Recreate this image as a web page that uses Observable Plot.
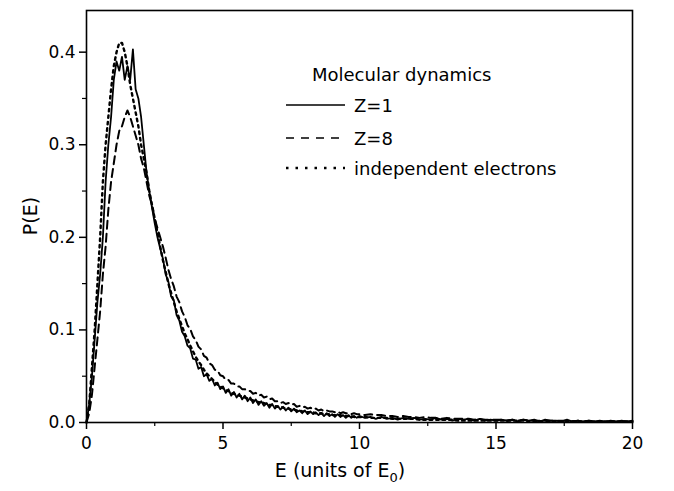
<!DOCTYPE html>
<html><head><meta charset="utf-8">
<script src="https://cdn.jsdelivr.net/npm/d3@7"></script>
<script src="https://cdn.jsdelivr.net/npm/@observablehq/plot@0.6"></script>
<style>
body{margin:0;background:#fff;}
#chart{position:relative;width:674px;height:491px;}
</style></head><body><div id="chart"></div>
<script>
const energy = [0,0.1,0.2,0.3,0.4,0.5,0.6,0.7,0.8,0.9,1.0,1.1,1.2,1.3,1.4,1.5,1.6,1.7,1.8,1.9,2.0,2.1,2.2,2.3,2.4,2.5,2.6,2.7,2.8,2.9,3.0,3.1,3.2,3.3,3.4,3.5,3.6,3.7,3.8,3.9,4.0,4.1,4.2,4.3,4.4,4.5,4.6,4.7,4.8,4.9,5.0,5.1,5.2,5.3,5.4,5.5,5.6,5.7,5.8,5.9,6.0,
6.1,6.2,6.3,6.4,6.5,6.6,6.7,6.8,6.9,7.0,7.1,7.2,7.3,7.4,7.5,7.6,7.7,7.8,7.9,8.0,8.1,8.2,8.3,8.4,8.5,8.6,8.7,8.8,8.9,9.0,9.1,9.2,9.3,9.4,9.5,9.6,9.7,9.8,9.9,10.0,
10.2,10.4,10.6,10.8,11.0,11.2,11.4,11.6,11.8,12.0,12.2,12.4,12.6,12.8,13.0,13.2,13.4,13.6,13.8,14.0,14.2,14.4,14.6,14.8,15.0,15.2,15.4,15.6,15.8,16.0,16.2,16.4,16.6,16.8,17.0,17.2,17.4,17.6,17.8,18.0,18.2,18.4,18.6,18.8,19.0,19.2,19.4,19.6,19.8,20.0];

const z1 = [0,0.02,0.05,0.09,0.13,0.16,0.2,0.26,0.3,0.33,0.37,0.39,0.38,0.395,0.37,0.385,0.37,0.403,0.36,0.35,0.33,0.3,0.27,0.25,0.232,0.215,0.2,0.188,0.177,0.16,0.152,0.136,0.132,0.116,0.11,0.098,0.093,0.083,0.08,0.069,0.068,0.058,0.06,0.05,0.052,0.045,0.047,0.04,0.043,0.036,0.039,0.032,0.036,0.029,0.033,0.027,0.031,0.025,0.029,0.023,0.027,
0.021,0.025,0.019,0.023,0.018,0.021,0.016,0.02,0.015,0.018,0.014,0.017,0.013,0.016,0.012,0.015,0.011,0.013,0.01,0.013,0.009,0.012,0.009,0.011,0.008,0.01,0.007,0.01,0.007,0.009,0.006,0.009,0.006,0.008,0.005,0.008,0.005,0.007,0.005,0.007,
0.005,0.006,0.004,0.006,0.004,0.005,0.003,0.005,0.004,0.005,0.003,0.004,0.003,0.005,0.003,0.004,0.002,0.004,0.003,0.004,0.002,0.004,0.002,0.003,0.002,0.003,0.002,0.003,0.001,0.003,0.002,0.003,0.001,0.003,0.002,0.002,0.001,0.003,0.001,0.002,0.001,0.002,0.001,0.002,0.001,0.002,0.001,0.002,0.001,0.002];

const z8 = [0,0.01,0.03,0.06,0.09,0.12,0.16,0.19,0.23,0.26,0.28,0.3,0.315,0.32,0.33,0.337,0.33,0.32,0.31,0.3,0.285,0.275,0.26,0.245,0.235,0.22,0.21,0.2,0.19,0.178,0.165,0.155,0.147,0.136,0.13,0.12,0.114,0.105,0.101,0.093,0.089,0.082,0.079,0.072,0.07,0.064,0.062,0.057,0.056,0.051,0.05,0.046,0.046,0.042,0.042,0.039,0.039,0.036,0.036,0.034,0.034,
0.031,0.032,0.029,0.03,0.027,0.028,0.025,0.026,0.023,0.023,0.021,0.022,0.02,0.021,0.019,0.02,0.017,0.018,0.016,0.017,0.015,0.016,0.014,0.015,0.013,0.014,0.012,0.013,0.012,0.012,0.011,0.012,0.01,0.011,0.01,0.01,0.009,0.01,0.009,0.009,
0.008,0.009,0.008,0.008,0.007,0.007,0.006,0.007,0.006,0.006,0.005,0.006,0.005,0.005,0.004,0.005,0.004,0.004,0.004,0.004,0.003,0.004,0.003,0.003,0.003,0.003,0.002,0.003,0.002,0.003,0.002,0.002,0.002,0.002,0.002,0.002,0.002,0.002,0.001,0.002,0.001,0.002,0.001,0.001,0.001,0.001,0.001,0.001,0.001,0.001];

const indep = [0,0.02,0.06,0.1,0.15,0.2,0.26,0.3,0.33,0.36,0.385,0.4,0.41,0.41,0.4,0.385,0.365,0.35,0.335,0.32,0.3,0.285,0.27,0.25,0.235,0.22,0.205,0.19,0.175,0.163,0.15,0.14,0.13,0.12,0.112,0.104,0.096,0.09,0.083,0.077,0.071,0.066,0.062,0.057,0.053,0.05,0.047,0.044,0.041,0.039,0.037,0.035,0.034,0.032,0.031,0.03,0.029,0.028,0.027,0.026,0.025,
0.024,0.023,0.022,0.022,0.021,0.02,0.019,0.019,0.018,0.017,0.017,0.016,0.015,0.015,0.014,0.014,0.013,0.013,0.012,0.012,0.011,0.011,0.011,0.01,0.01,0.01,0.009,0.009,0.009,0.008,0.008,0.008,0.008,0.007,0.007,0.007,0.007,0.006,0.006,0.006,
0.006,0.005,0.005,0.005,0.005,0.004,0.004,0.004,0.004,0.004,0.003,0.003,0.003,0.003,0.003,0.003,0.003,0.002,0.002,0.002,0.002,0.002,0.002,0.002,0.002,0.002,0.002,0.002,0.002,0.002,0.0015,0.0015,0.0015,0.0015,0.0015,0.0015,0.0015,0.0015,0.0015,0.0015,0.001,0.001,0.001,0.001,0.001,0.001,0.001,0.001,0.001,0.001];

const xTicks = [0,5,10,15,20];
const xMinor = [2.5,7.5,12.5,17.5];
const yTicks = [0,0.1,0.2,0.3,0.4];
const yMinor = [0.05,0.15,0.25,0.35];
const legendTitle = "Molecular dynamics";
const seriesNames = ["Z=1","Z=8","independent electrons"];
const dashes = [null,"8,5","2.5,4"];
const legendDashes = [null,"8,7","2.5,7"];

const FONT = "'DejaVu Sans',sans-serif";
const mk = arr => energy.map((e,i)=>({E:e,P:arr[i]}));
const series = [mk(z1), mk(z8), mk(indep)];

const plot = Plot.plot({
  width:674, height:491,
  marginLeft:86, marginRight:42, marginTop:10, marginBottom:69,
  x:{domain:[0,20]},
  y:{domain:[0,0.445]},
  style:{fontFamily:FONT, color:"#000", background:"#fff"},
  marks:[
    Plot.line(series[0],{x:"E",y:"P",stroke:"#000",strokeWidth:1.8}),
    Plot.line(series[1],{x:"E",y:"P",stroke:"#000",strokeWidth:2,strokeDasharray:dashes[1]}),
    Plot.line(series[2],{x:"E",y:"P",stroke:"#000",strokeWidth:2.4,strokeDasharray:dashes[2]}),
    Plot.axisX({ticks:xTicks,tickSize:7,tickPadding:7,tickFormat:d=>String(d),label:null,strokeWidth:1.5,fontSize:17}),
    Plot.axisX({ticks:xMinor,tickSize:4,text:null,label:null,strokeWidth:1.2}),
    Plot.axisY({ticks:yTicks,tickSize:7,tickPadding:4,tickFormat:d3.format(".1f"),label:null,strokeWidth:1.5,fontSize:17}),
    Plot.axisY({ticks:yMinor,tickSize:4,text:null,label:null,strokeWidth:1.2}),
    Plot.frame({stroke:"#000",strokeWidth:1.6})
  ]
});
document.getElementById("chart").appendChild(plot);

const svg = d3.select(plot);
const txt = (sel,size,anchor) => sel.attr("text-anchor",anchor).style("font-size",size+"px")
  .style("font-family",FONT).attr("fill","#000");
// axis titles
svg.append("text").attr("x",340).attr("y",477)
  .call(s=>txt(s,19,"middle"))
  .call(t=>{t.append("tspan").text("E (units of E");
            t.append("tspan").attr("dy",5).style("font-size","13px").text("0");
            t.append("tspan").attr("dy",-5).text(")");});
svg.append("text").attr("transform","translate(37,216) rotate(-90)")
  .call(s=>txt(s,19,"middle")).text("P(E)");
// legend
svg.append("text").attr("x",312).attr("y",81).call(s=>txt(s,18,"start")).text(legendTitle);
const ly = [105,138,168];
seriesNames.forEach((name,i)=>{
  const l = svg.append("line").attr("x1",286).attr("x2",345).attr("y1",ly[i]).attr("y2",ly[i])
    .attr("stroke","#000").attr("stroke-width",i===2?2.4:1.6);
  if(legendDashes[i]) l.attr("stroke-dasharray", legendDashes[i]);
  svg.append("text").attr("x",354).attr("y",ly[i]+6.5).call(s=>txt(s,18,"start")).text(name);
});
</script></body></html>
